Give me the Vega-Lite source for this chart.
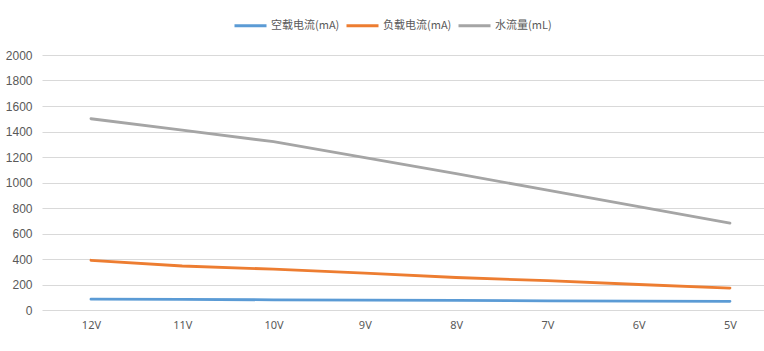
{
  "$schema": "https://vega.github.io/schema/vega-lite/v6.json",
  "autosize": "none",
  "width": 722,
  "height": 255,
  "padding": {"left": 42, "top": 55, "right": 0, "bottom": 41},
  "background": "white",
  "config": {"view": {"stroke": null}},
  "data": {
    "values": [
      {"v": "12V", "s": "空载电流(mA)", "y": 85},
      {"v": "11V", "s": "空载电流(mA)", "y": 83},
      {"v": "10V", "s": "空载电流(mA)", "y": 80},
      {"v": "9V", "s": "空载电流(mA)", "y": 77},
      {"v": "8V", "s": "空载电流(mA)", "y": 75},
      {"v": "7V", "s": "空载电流(mA)", "y": 72},
      {"v": "6V", "s": "空载电流(mA)", "y": 70},
      {"v": "5V", "s": "空载电流(mA)", "y": 68},
      {"v": "12V", "s": "负载电流(mA)", "y": 390},
      {"v": "11V", "s": "负载电流(mA)", "y": 345},
      {"v": "10V", "s": "负载电流(mA)", "y": 320},
      {"v": "9V", "s": "负载电流(mA)", "y": 290},
      {"v": "8V", "s": "负载电流(mA)", "y": 255},
      {"v": "7V", "s": "负载电流(mA)", "y": 230},
      {"v": "6V", "s": "负载电流(mA)", "y": 200},
      {"v": "5V", "s": "负载电流(mA)", "y": 172},
      {"v": "12V", "s": "水流量(mL)", "y": 1500},
      {"v": "11V", "s": "水流量(mL)", "y": 1410},
      {"v": "10V", "s": "水流量(mL)", "y": 1320},
      {"v": "9V", "s": "水流量(mL)", "y": 1195},
      {"v": "8V", "s": "水流量(mL)", "y": 1070},
      {"v": "7V", "s": "水流量(mL)", "y": 940},
      {"v": "6V", "s": "水流量(mL)", "y": 810},
      {"v": "5V", "s": "水流量(mL)", "y": 682}
    ]
  },
  "mark": {"type": "line", "strokeWidth": 2.8, "strokeCap": "round"},
  "encoding": {
    "x": {
      "field": "v", "type": "ordinal",
      "sort": ["12V", "11V", "10V", "9V", "8V", "7V", "6V", "5V"],
      "scale": {"type": "point", "padding": 0.4545, "align": 0.59},
      "axis": {"title": null, "labelAngle": 0, "ticks": false, "domain": false, "grid": false,
               "labelFont": "Noto Sans", "labelFontSize": 11, "labelColor": "#595959", "labelPadding": 9}
    },
    "y": {
      "field": "y", "type": "quantitative",
      "scale": {"domain": [0, 2000]},
      "axis": {"title": null, "values": [0,200,400,600,800,1000,1200,1400,1600,1800,2000], "format": "d",
               "ticks": false, "domain": false, "gridColor": "#d9d9d9", "gridWidth": 1,
               "labelFont": "Liberation Sans", "labelFontSize": 12, "labelColor": "#595959", "labelPadding": 10}
    },
    "color": {
      "field": "s", "type": "nominal",
      "sort": ["空载电流(mA)", "负载电流(mA)", "水流量(mL)"],
      "scale": {"domain": ["空载电流(mA)", "负载电流(mA)", "水流量(mL)"], "range": ["#5B9BD5", "#ED7D31", "#A5A5A5"]},
      "legend": {
        "title": null, "orient": "none", "direction": "horizontal", "legendX": 191, "legendY": -47,
        "symbolType": "stroke", "symbolSize": 1024, "symbolStrokeWidth": 3,
        "labelFont": "Noto Sans CJK SC", "labelFontSize": 11, "labelColor": "#595959",
        "labelOffset": 3, "columnPadding": 0
      }
    }
  }
}
